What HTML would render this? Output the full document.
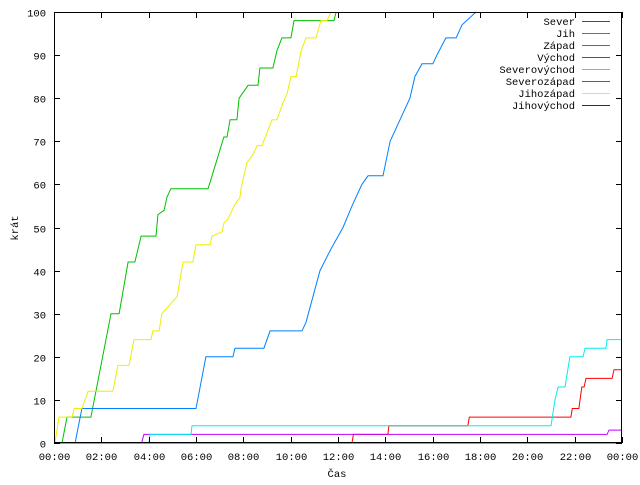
<!DOCTYPE html>
<html><head><meta charset="utf-8"><style>
body{margin:0;background:#fff}
svg text{font-family:"Liberation Mono",monospace;font-size:10.5px;fill:#000}
</style></head><body>
<svg id="c" width="640" height="480" xmlns="http://www.w3.org/2000/svg"></svg>
<script>
const seriesNames=["Sever","Jih","Západ","Východ","Severovýchod","Severozápad","Jihozápad","Jihovýchod"];
const seriesColors=["#ff0000","#00c000","#0080ff","#c000ff","#00eeee","#c04000","#eeee00","#2020c0"];
const sever=[[0,0],[12.59,0],[12.65,2],[14.11,2],[14.15,4],[17.49,4],[17.55,6],[21.84,6],[21.9,8],[22.18,8],[22.3,13],[22.4,13],[22.48,15],[23.58,15],[23.66,17],[24,17]];
const jih=[[0.34,0],[0.55,6],[1.56,6],[2.41,30],[2.75,30],[3.13,42],[3.42,42],[3.68,48],[4.31,48],[4.39,53],[4.65,54],[4.77,57],[4.94,59],[6.51,59],[7.18,71],[7.31,71],[7.44,75],[7.73,75],[7.82,80],[8.20,83],[8.62,83],[8.70,87],[9.25,87],[9.42,91],[9.63,94],[10.01,94],[10.14,98],[11.83,98],[11.92,100]];
const zapad=[[0.89,0],[1.18,8],[6.0,8],[6.42,20],[7.56,20],[7.65,22],[8.87,22],[9.13,26],[10.48,26],[10.65,28],[11.24,40],[11.7,45],[12.21,50],[12.59,55],[13.01,60],[13.27,62],[13.9,62],[14.2,70],[14.62,75],[15.04,80],[15.25,85],[15.55,88],[16.01,88],[16.18,90],[16.56,94],[16.99,94],[17.24,97],[17.83,100]];
const vychod=[[0,0],[3.7,0],[3.8,2],[23.37,2],[23.45,3],[24,3]];
const severovychod=[[0,0],[4.01,0],[4.06,2],[5.79,2],[5.83,4],[21.0,4],[21.17,10],[21.3,13],[21.59,13],[21.8,20],[22.35,20],[22.44,22],[23.32,22],[23.37,24],[24,24]];
const severozapad=[[0,0],[24,0]];
const jihozapad=[[0.04,0],[0.21,6],[0.76,6],[0.85,8],[1.18,8],[1.44,12],[2.49,12],[2.70,18],[3.17,18],[3.38,24],[4.10,24],[4.18,26],[4.44,26],[4.56,30],[5.20,34],[5.45,42],[5.87,42],[6.0,46],[6.59,46],[6.68,48],[7.10,49],[7.18,51],[7.35,52],[7.61,55],[7.86,57],[7.90,59],[8.15,65],[8.41,67],[8.58,69],[8.79,69],[9.0,72],[9.21,75],[9.42,75],[9.68,79],[9.85,81],[10.01,85],[10.23,85],[10.44,91],[10.65,94],[11.07,94],[11.28,98],[11.54,98],[11.70,100]];
const jihovychod=[[0,0],[24,0]];
const allSeries=[sever,jih,zapad,vychod,severovychod,severozapad,jihozapad,jihovychod];
const xTickHours=[0,2,4,6,8,10,12,14,16,18,20,22,24];
const xTickLabels=["00:00","02:00","04:00","06:00","08:00","10:00","12:00","14:00","16:00","18:00","20:00","22:00","00:00"];
const yTicks=[0,10,20,30,40,50,60,70,80,90,100];

const L=54,R=622,T=12,B=443;
const sx=h=>L+(R-L)*h/24, sy=v=>B-(B-T)*v/100;
const svg=document.getElementById('c');
const NS="http://www.w3.org/2000/svg";
function mk(tag,attrs,parent){const e=document.createElementNS(NS,tag);for(const k in attrs)e.setAttribute(k,attrs[k]);(parent||svg).appendChild(e);return e;}

const plot=mk('g',{});


allSeries.forEach((s,i)=>{
  const p=mk('polyline',{points:s.map(d=>sx(d[0]).toFixed(1)+','+sy(d[1]).toFixed(1)).join(' '),fill:'none',stroke:seriesColors[i],'stroke-width':1},plot);
  
  
});
const frame=mk('rect',{x:L+.5,y:T+.5,width:R-L-1,height:B-T-1,fill:'none',stroke:'#000','stroke-width':1});


yTicks.forEach(v=>{
  const y=Math.round(sy(v))+.5;
  const t=mk('path',{d:`M${L} ${y}h6M${R} ${y}h-6`,stroke:'#000'});
  
  
  const lb=mk('text',{x:46,y:y+4,'text-anchor':'end'});
  lb.textContent=v;
  
  
});
xTickHours.forEach((h,i)=>{
  const x=Math.round(sx(h))+.5;
  const t=mk('path',{d:`M${x} ${B}v-6M${x} ${T}v6`,stroke:'#000'});
  
  
  const lb=mk('text',{x:x,y:460,'text-anchor':'middle'});
  lb.textContent=xTickLabels[i];
  
  
});
const xt=mk('text',{x:337,y:477,'text-anchor':'middle'});
xt.textContent='Čas';


const yt=mk('text',{x:18,y:228,'text-anchor':'middle',transform:'rotate(-90 18 228)'});
yt.textContent='krát';


const leg=mk('g',{});


seriesNames.forEach((n,i)=>{
  const y=21+i*12;
  const tx=mk('text',{x:575,y:y+4,'text-anchor':'end'},leg);
  tx.textContent=n;
  
  
  const ln=mk('line',{x1:582,x2:610,y1:y+.5,y2:y+.5,stroke:seriesColors[i]},leg);
  
  
});
</script>
</body></html>
